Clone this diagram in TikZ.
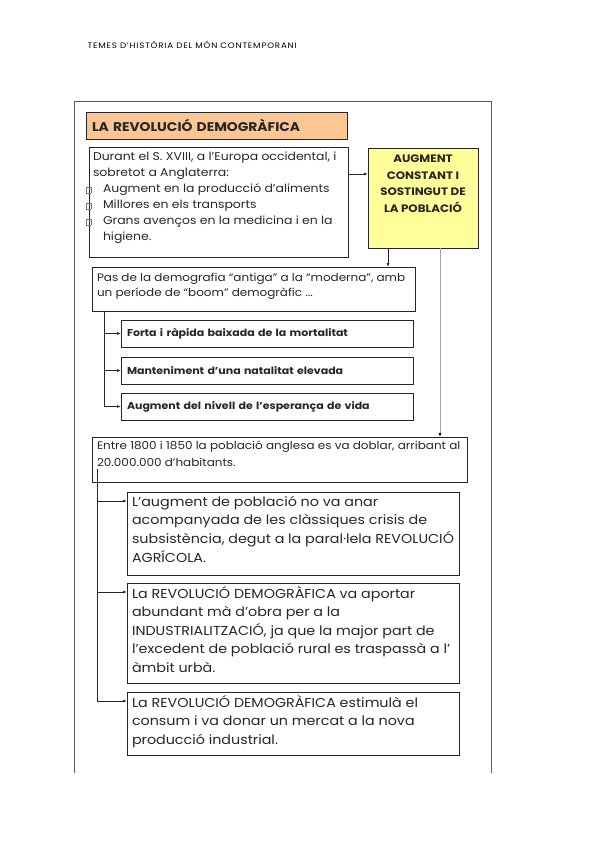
\documentclass[tikz,border=0pt]{standalone}
\usepackage{fontspec}
\setmainfont{Poppins}[FakeStretch=1.1]
\newfontfamily\headfont[LetterSpace=10,FakeStretch=1.1]{Poppins}
\usetikzlibrary{arrows.meta}
\definecolor{titleorange}{HTML}{FBC694}
\definecolor{noteyellow}{HTML}{FFFF99}
\newcommand{\topbox}[3]{\parbox[c][#1][t]{#2}{\raggedright #3}}
\newcommand{\sqbullet}{\llap{{\color{black!55}\fboxrule=0.5pt\fboxsep=0pt\fbox{\rule{0pt}{5pt}\hspace{4pt}}}\hspace{12pt}}}
\begin{document}
\begin{tikzpicture}[x=1pt, y=-1pt, >={Latex[length=4pt,width=3pt]},
  box/.style={draw=black!85, line width=0.9pt, anchor=north west, inner ysep=0pt, outer sep=0pt, text=black!85},
  link/.style={draw=black!85, line width=0.8pt},
  frame/.style={draw=black!65, line width=0.8pt}]
\useasboundingbox (0,0) rectangle (600,848);
% header
\node[anchor=west, font=\headfont\fontsize{7.9}{9}\selectfont] (head) at (84,45) {TEMES D’HISTÒRIA DEL MÓN CONTEMPORANI};
\draw[frame] (74,773) |- (491,101) -- (491,773);
% title and causes
\node[box, fill=titleorange, minimum height=27pt, inner xsep=6pt, text width=249pt, align=left,
  font=\bfseries\fontsize{12.6}{14}\selectfont] (title) at (86,112) {LA REVOLUCIÓ DEMOGRÀFICA};
\node[box, inner xsep=4pt, font=\fontsize{11.3}{16}\selectfont] (durant) at (89,147)
  {\topbox{110pt}{251pt}{\vspace*{5pt}Durant el S. XVIII, a l’Europa occidental, i\\
  sobretot a Anglaterra:\\
  \hspace*{10pt}\sqbullet Augment en la producció d’aliments\\
  \hspace*{10pt}\sqbullet Millores en els transports\\
  \hspace*{10pt}\sqbullet Grans avenços en la medicina i en la\\
  \hspace*{10pt}higiene.}};
\node[box, fill=noteyellow, inner xsep=2pt, font=\bfseries\fontsize{10.8}{16.6}\selectfont] (augment) at (368,148)
  {\parbox[c][100pt][t]{106pt}{\centering\vspace*{7pt}AUGMENT\\ CONSTANT I\\ SOSTINGUT DE\\ LA POBLACIÓ}};
% demographic transition
\node[box, inner xsep=5pt, font=\fontsize{10.9}{15.5}\selectfont] (pas) at (92,267)
  {\topbox{44pt}{313pt}{\vspace*{6pt}Pas de la demografia “antiga” a la “moderna”, amb\\
  un període de “boom” demogràfic ...}};
\node[box, inner xsep=6pt, minimum height=27pt, text width=280pt, align=left,
  font=\bfseries\fontsize{10}{12}\selectfont] (forta) at (121,320) {Forta i ràpida baixada de la mortalitat};
\node[box, inner xsep=6pt, minimum height=27pt, text width=280pt, align=left,
  font=\bfseries\fontsize{10}{12}\selectfont] (mant) at (121,357) {Manteniment d’una natalitat elevada};
\node[box, inner xsep=6pt, minimum height=27pt, text width=280pt, align=left,
  font=\bfseries\fontsize{10}{12}\selectfont] (esper) at (121,393) {Augment del nivell de l’esperança de vida};
% consequences
\node[box, inner xsep=5pt, font=\fontsize{10.9}{17}\selectfont] (entre) at (92,437)
  {\topbox{45pt}{365pt}{\vspace*{4pt}Entre 1800 i 1850 la població anglesa es va doblar, arribant al\\
  20.000.000 d’habitants.}};
\node[box, inner xsep=5pt, font=\fontsize{13}{18.6}\selectfont] (crisi) at (127,492)
  {\topbox{83pt}{322pt}{\vspace*{4pt}L’augment de població no va anar\\
  acompanyada de les clàssiques crisis de\\
  subsistència, degut a la paral·lela REVOLUCIÓ\\
  AGRÍCOLA.}};
\node[box, inner xsep=5pt, font=\fontsize{13}{18.6}\selectfont] (obra) at (127,583)
  {\topbox{100pt}{322pt}{\vspace*{3pt}La REVOLUCIÓ DEMOGRÀFICA va aportar\\
  abundant mà d’obra per a la\\
  INDUSTRIALITZACIÓ, ja que la major part de\\
  l’excedent de població rural es traspassà a l’\\
  àmbit urbà.}};
\node[box, inner xsep=5pt, font=\fontsize{13}{18.6}\selectfont] (consum) at (127,692)
  {\topbox{63pt}{322pt}{\vspace*{3pt}La REVOLUCIÓ DEMOGRÀFICA estimulà el\\
  consum i va donar un mercat a la nova\\
  producció industrial.}};
% arrows
\coordinate (d1) at ([yshift=-27pt]durant.north east);
\draw[link, ->] (d1) -- (d1 -| augment.west);
\coordinate (a1) at ([xshift=20pt]augment.south west);
\draw[link, ->] (a1) -- (a1 |- pas.north);
\coordinate (a2) at ([xshift=-38pt]augment.south east);
\draw[link, draw=black!35, -{Latex[length=4pt,width=3pt,black]}] (a2) -- (a2 |- entre.north);
\coordinate (pasfoot) at ([xshift=12pt]pas.south west);
\draw[link, ->] (pasfoot) |- (esper.west);
\draw[link, ->] (pasfoot |- forta.west) -- (forta.west);
\draw[link, ->] (pasfoot |- mant.west) -- (mant.west);
\coordinate (entrefoot) at ([xshift=5pt,yshift=13pt]entre.south west);
\coordinate (c1) at ([yshift=-9pt]crisi.north west);
\coordinate (c2) at ([yshift=-9pt]obra.north west);
\coordinate (c3) at ([yshift=-9pt]consum.north west);
\draw[link, ->] (entrefoot) |- (c3);
\draw[link, ->] (entrefoot |- c1) -- (c1);
\draw[link, ->] (entrefoot |- c2) -- (c2);
\end{tikzpicture}
\end{document}
